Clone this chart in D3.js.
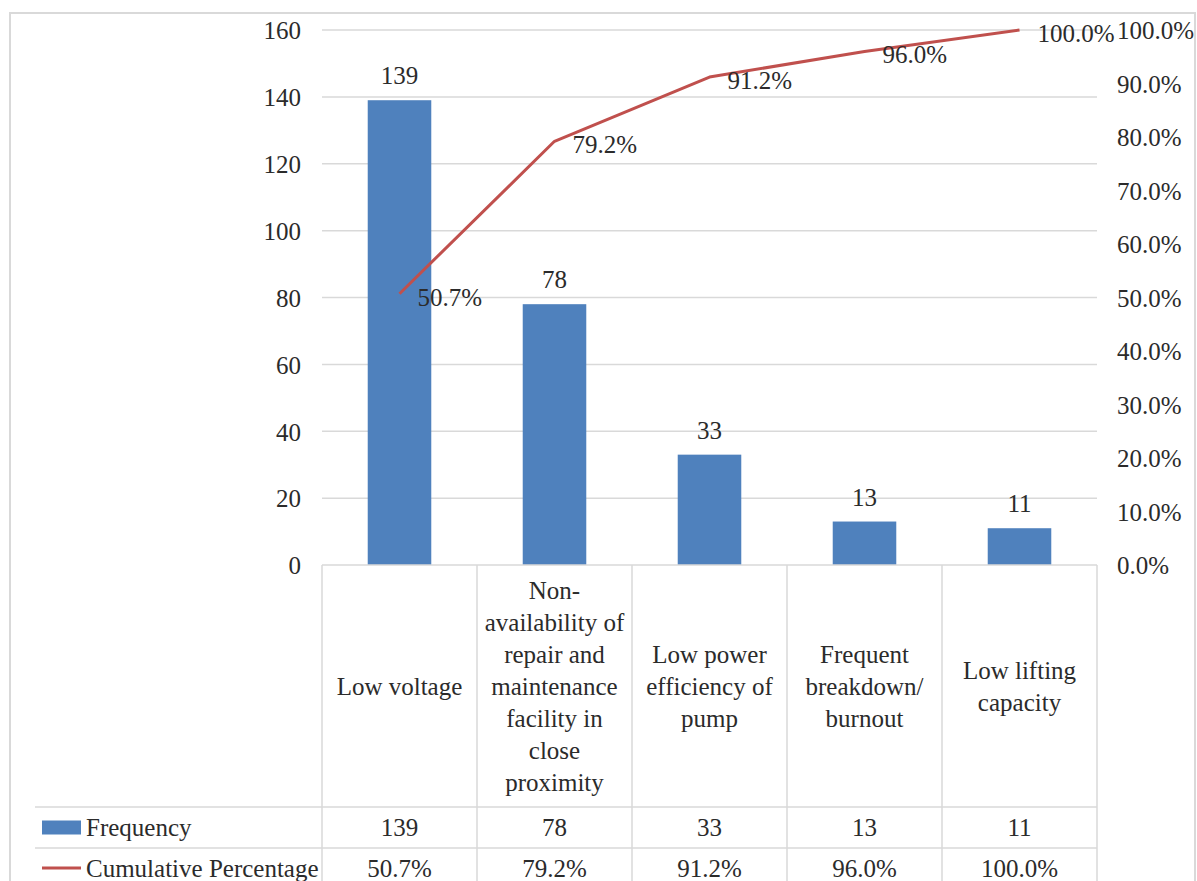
<!DOCTYPE html>
<html>
<head>
<meta charset="utf-8">
<script src="https://cdn.jsdelivr.net/npm/d3@7"></script>
<style>
  html, body { margin: 0; padding: 0; background: #fff; }
</style>
</head>
<body>
<svg id="chart" width="1197" height="881"></svg>
<script>
// Causes of pump problems (Pareto): frequency and cumulative share
const categories = [
  ["Low voltage"],
  ["Non-", "availability of", "repair and", "maintenance", "facility in", "close", "proximity"],
  ["Low power", "efficiency of", "pump"],
  ["Frequent", "breakdown/", "burnout"],
  ["Low lifting", "capacity"]
];
const frequency = [139, 78, 33, 13, 11];
const cumulativePct = [50.7, 79.2, 91.2, 96.0, 100.0];
const leftTicks = [0, 20, 40, 60, 80, 100, 120, 140, 160];
const rightTicks = [0, 10, 20, 30, 40, 50, 60, 70, 80, 90, 100];
const seriesNames = ["Frequency", "Cumulative Percentage"];

const FONT = "Liberation Serif";
const svg = d3.select("#chart");
const FS = 25;
const textColor = "#2b2b2b";
const barColor = "#4f81bd";
const lineColor = "#c0504d";
const gridColor = "#d9d9d9";

const plotTop = 30, plotBottom = 565, plotLeft = 322, plotRight = 1097;
const rowFreqTop = 807, rowCumTop = 848, tableLeft = 35;

const ids = d3.range(categories.length);
const x = d3.scaleBand().domain(ids).range([plotLeft, plotRight]).padding(0);
const yL = d3.scaleLinear().domain([0, 160]).range([plotBottom, plotTop]);
const yR = d3.scaleLinear().domain([0, 100]).range([plotBottom, plotTop]);

function styleText(sel) {
  return sel.style("font-family", FONT).attr("font-size", FS).attr("fill", textColor);
}

// outer frame
svg.append("rect").attr("x", 10).attr("y", 13).attr("width", 1185).attr("height", 900)
  .attr("fill", "none").attr("stroke", gridColor).attr("stroke-width", 2);

// horizontal gridlines
svg.append("g").selectAll("line").data(leftTicks.filter(d => d > 0)).join("line")
  .attr("x1", plotLeft).attr("x2", plotRight)
  .attr("y1", d => yL(d)).attr("y2", d => yL(d))
  .attr("stroke", gridColor).attr("stroke-width", 1.5);

// left axis labels
const axL = svg.append("g").attr("transform", `translate(${plotLeft - 21},0)`)
  .call(d3.axisLeft(yL).tickValues(leftTicks).tickSize(0).tickPadding(0));
axL.select(".domain").remove();
styleText(axL.selectAll("text")).attr("dy", "0.35em");

// right axis labels
const axR = svg.append("g").attr("transform", `translate(${plotRight + 20},0)`)
  .call(d3.axisRight(yR).tickValues(rightTicks).tickSize(0).tickPadding(0)
    .tickFormat(d => d.toFixed(1) + "%"));
axR.select(".domain").remove();
styleText(axR.selectAll("text")).attr("dy", "0.35em");

// bars
const barW = x.bandwidth() * 0.41;
svg.append("g").selectAll("rect").data(ids).join("rect")
  .attr("x", i => x(i) + (x.bandwidth() - barW) / 2)
  .attr("width", barW)
  .attr("y", i => yL(frequency[i]))
  .attr("height", i => yL(0) - yL(frequency[i]))
  .attr("fill", barColor);

// bar value labels
styleText(svg.append("g").selectAll("text").data(ids).join("text"))
  .attr("x", i => x(i) + x.bandwidth() / 2)
  .attr("y", i => yL(frequency[i]) - 16)
  .attr("text-anchor", "middle")
  .text(i => frequency[i]);

// cumulative line
const line = d3.line().x(i => x(i) + x.bandwidth() / 2).y(i => yR(cumulativePct[i]));
svg.append("path").datum(ids).attr("d", line)
  .attr("fill", "none").attr("stroke", lineColor).attr("stroke-width", 3)
  .attr("stroke-linejoin", "round");

// line value labels
styleText(svg.append("g").selectAll("text").data(ids).join("text"))
  .attr("x", i => x(i) + x.bandwidth() / 2 + 18)
  .attr("y", i => yR(cumulativePct[i]) + 3)
  .attr("dy", "0.35em")
  .text(i => cumulativePct[i].toFixed(1) + "%");

// data table grid
const tbl = svg.append("g").attr("stroke", gridColor).attr("stroke-width", 1.5);
tbl.append("line").attr("x1", plotLeft).attr("x2", plotRight).attr("y1", plotBottom).attr("y2", plotBottom);
[rowFreqTop, rowCumTop].forEach(yy =>
  tbl.append("line").attr("x1", tableLeft).attr("x2", plotRight).attr("y1", yy).attr("y2", yy));
const cols = ids.map(i => x(i)).concat([plotRight]);
tbl.selectAll("line.v").data(cols).join("line").attr("class", "v")
  .attr("x1", d => d).attr("x2", d => d).attr("y1", plotBottom).attr("y2", 881);

// category labels (multi-line, centred in the header row)
const hdrMid = (plotBottom + rowFreqTop) / 2;
const lh = 32;
styleText(svg.append("g").selectAll("text").data(ids).join("text"))
  .attr("text-anchor", "middle")
  .each(function (i) {
    const lines = categories[i];
    const t = d3.select(this);
    lines.forEach((s, k) => {
      t.append("tspan")
        .attr("x", x(i) + x.bandwidth() / 2)
        .attr("y", hdrMid + (k - (lines.length - 1) / 2) * lh)
        .attr("dy", "0.35em")
        .text(s);
    });
  });

// table values
const rowFreqMid = (rowFreqTop + rowCumTop) / 2;
const rowCumMid = rowCumTop + 20;
styleText(svg.append("g").selectAll("text").data(ids).join("text"))
  .attr("x", i => x(i) + x.bandwidth() / 2).attr("y", rowFreqMid).attr("dy", "0.35em")
  .attr("text-anchor", "middle").text(i => frequency[i]);
styleText(svg.append("g").selectAll("text").data(ids).join("text"))
  .attr("x", i => x(i) + x.bandwidth() / 2).attr("y", rowCumMid).attr("dy", "0.35em")
  .attr("text-anchor", "middle").text(i => cumulativePct[i].toFixed(1) + "%");

// legend keys inside the table rows
svg.append("rect").attr("x", 42).attr("y", rowFreqMid - 7).attr("width", 39).attr("height", 14).attr("fill", barColor);
svg.append("line").attr("x1", 42).attr("x2", 81).attr("y1", rowCumMid).attr("y2", rowCumMid)
  .attr("stroke", lineColor).attr("stroke-width", 3);
styleText(svg.append("text")).attr("x", 86).attr("y", rowFreqMid).attr("dy", "0.35em").text(seriesNames[0]);
styleText(svg.append("text")).attr("x", 86).attr("y", rowCumMid).attr("dy", "0.35em").text(seriesNames[1]);
</script>
</body>
</html>
